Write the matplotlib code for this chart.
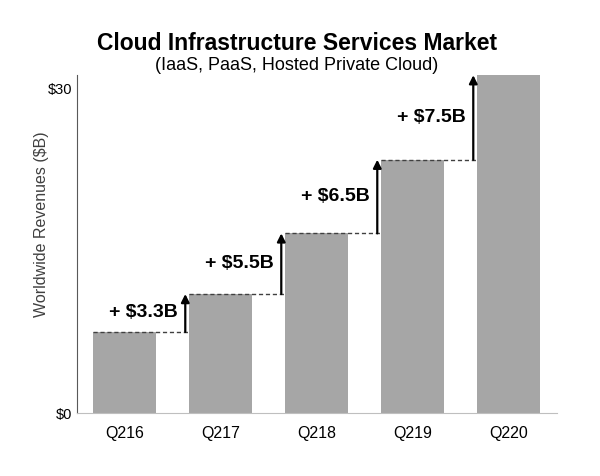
import numpy as np
import matplotlib.pyplot as plt

plt.rcParams['font.family'] = ['Liberation Sans', 'DejaVu Sans']

quarters = ['Q216', 'Q217', 'Q218', 'Q219', 'Q220']
revenues = [7.5, 11.0, 16.6, 23.4, 31.2]
growth_labels = ['+ $3.3B', '+ $5.5B', '+ $6.5B', '+ $7.5B']
ytick_vals = [0, 30]
ytick_labels = ['$0', '$30']

fig = plt.figure(figsize=(6, 4.76), dpi=100)
ax = fig.add_axes([0.128, 0.132, 0.8, 0.71])

x = np.arange(len(quarters))
width = 0.66
ax.bar(x, revenues, width=width, color='#a6a6a6', zorder=2)

# dashed step lines + growth arrows
for i in range(len(quarters) - 1):
    left = x[i] - width / 2
    nxt = x[i + 1] - width / 2
    ax.plot([left, nxt], [revenues[i], revenues[i]], ls=(0, (3, 2)),
            color='#404040', lw=1, zorder=3)
    ax_x = nxt - 0.04
    ax.annotate('', xy=(ax_x, revenues[i + 1]), xytext=(ax_x, revenues[i]),
                arrowprops=dict(arrowstyle='-|>', color='black', lw=1.6,
                                mutation_scale=12, shrinkA=0, shrinkB=0),
                zorder=4)
    ax.text(ax_x - 0.08, (revenues[i] + revenues[i + 1]) / 2, growth_labels[i],
            ha='right', va='center', fontsize=14, fontweight='bold')

ax.set_xlim(-0.5, 4.5)
ax.set_ylim(0, 31.2)
ax.set_xticks(x)
ax.set_xticklabels(quarters, fontsize=11.5)
ax.set_yticks(ytick_vals)
ax.set_yticklabels(ytick_labels, fontsize=10.5)
ax.tick_params(length=0, pad=9)
ax.tick_params(axis='y', pad=3)
ax.set_ylabel('Worldwide Revenues ($B)', fontsize=11.5, color='#404040')
ax.yaxis.set_label_coords(-0.058, 0.56)

for s in ['top', 'right']:
    ax.spines[s].set_visible(False)
ax.spines['left'].set_color('#595959')
ax.spines['bottom'].set_color('#bfbfbf')

fig.text(0.495, 0.909, 'Cloud Infrastructure Services Market', ha='center',
         va='center', fontsize=16.5, fontweight='bold')
fig.text(0.495, 0.863, '(IaaS, PaaS, Hosted Private Cloud)', ha='center',
         va='center', fontsize=13)

fig.savefig('out.png', dpi=100)
